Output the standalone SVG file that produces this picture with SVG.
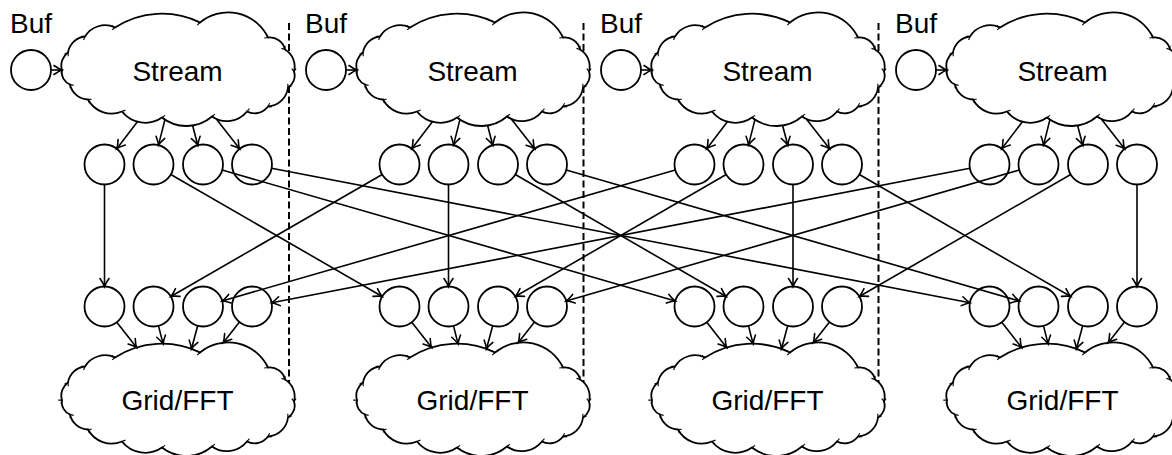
<svg xmlns="http://www.w3.org/2000/svg" xmlns:xlink="http://www.w3.org/1999/xlink" width="1172" height="455" viewBox="0 0 1172 455">
<style>
.c{fill:none;stroke:#000;stroke-width:1.8}
.cl{fill:#fff;stroke:#000;stroke-width:1.8;marker-mid:url(#tick)}
.t{font-family:"Liberation Sans",Arial,sans-serif;font-size:28px;fill:#000}
.m{text-anchor:middle}
.e{fill:none;stroke:#000;stroke-width:1.6;marker-end:url(#ah)}
.d{fill:none;stroke:#000;stroke-width:2;stroke-dasharray:7 3.5}
</style>
<defs>
<marker id="ah" markerUnits="userSpaceOnUse" markerWidth="12" markerHeight="12" viewBox="-9 -6 10 12" refX="0" refY="0" orient="auto" overflow="visible">
<path d="M-8,-4.5 Q-3,-1 0,0 Q-3,1 -8,4.5" fill="none" stroke="#000" stroke-width="1.6" stroke-linecap="round"/>
</marker>
<marker id="tick" markerUnits="userSpaceOnUse" markerWidth="8" markerHeight="8" viewBox="-5 -4 6 8" refX="0" refY="0" orient="auto" overflow="visible">
<path d="M-3,-2.2 L0,0 L-3,2.2" fill="none" stroke="#000" stroke-width="1.1"/>
</marker>
<path id="cloud" d="M-115.5,0 A15.8,15.8 0 0 1 -109.5,-17.5 A19,19 0 0 1 -92.5,-33.5 A23.4,23.4 0 0 1 -62.5,-42.5 A86.8,86.8 0 0 1 22.5,-47.5 A44.1,44.1 0 0 1 90.5,-32.5 A15.5,15.5 0 0 1 107.5,-20.5 A19.7,19.7 0 0 1 116.5,1.5 A13.7,13.7 0 0 1 110.5,17.5 A21.5,21.5 0 0 1 90.5,36.5 A16.6,16.6 0 0 1 69.5,41.5 A25.9,25.9 0 0 1 34.5,46.5 A39.2,39.2 0 0 1 -15.5,47.5 A29.5,29.5 0 0 1 -55.5,41.5 A26.8,26.8 0 0 1 -89.5,29.5 A19.1,19.1 0 0 1 -107.5,14.5 A13,13 0 0 1 -115.5,0 Z"/>
</defs>
<rect width="1172" height="455" fill="#fff"/>

<g id="separators">
<line class="d" x1="289" y1="23" x2="289" y2="383"/>
<line class="d" x1="583.5" y1="23" x2="583.5" y2="383"/>
<line class="d" x1="878.5" y1="23" x2="878.5" y2="383"/>
</g>

<g id="stream0"><use href="#cloud" class="cl" transform="translate(177.5,70)"/><text class="t m" x="177.5" y="80.5">Stream</text></g>
<g id="stream1"><use href="#cloud" class="cl" transform="translate(472.5,70)"/><text class="t m" x="472.5" y="80.5">Stream</text></g>
<g id="stream2"><use href="#cloud" class="cl" transform="translate(767.5,70)"/><text class="t m" x="767.5" y="80.5">Stream</text></g>
<g id="stream3"><use href="#cloud" class="cl" transform="translate(1062.5,70)"/><text class="t m" x="1062.5" y="80.5">Stream</text></g>

<g id="grid0"><use href="#cloud" class="cl" transform="translate(177.5,400)"/><text class="t m" x="177.5" y="410">Grid/FFT</text></g>
<g id="grid1"><use href="#cloud" class="cl" transform="translate(472.5,400)"/><text class="t m" x="472.5" y="410">Grid/FFT</text></g>
<g id="grid2"><use href="#cloud" class="cl" transform="translate(767.5,400)"/><text class="t m" x="767.5" y="410">Grid/FFT</text></g>
<g id="grid3"><use href="#cloud" class="cl" transform="translate(1062.5,400)"/><text class="t m" x="1062.5" y="410">Grid/FFT</text></g>

<g id="buf0"><text class="t" x="10" y="33">Buf</text><circle class="c" cx="31" cy="70" r="20"/></g>
<g id="buf1"><text class="t" x="305" y="33">Buf</text><circle class="c" cx="326" cy="70" r="20"/></g>
<g id="buf2"><text class="t" x="600" y="33">Buf</text><circle class="c" cx="621" cy="70" r="20"/></g>
<g id="buf3"><text class="t" x="895" y="33">Buf</text><circle class="c" cx="916" cy="70" r="20"/></g>

<g id="top0-0"><circle class="c" cx="104.5" cy="164.5" r="20"/></g>
<g id="top0-1"><circle class="c" cx="153.5" cy="164.5" r="20"/></g>
<g id="top0-2"><circle class="c" cx="203" cy="164.5" r="20"/></g>
<g id="top0-3"><circle class="c" cx="252" cy="164.5" r="20"/></g>
<g id="top1-0"><circle class="c" cx="399.5" cy="164.5" r="20"/></g>
<g id="top1-1"><circle class="c" cx="448.5" cy="164.5" r="20"/></g>
<g id="top1-2"><circle class="c" cx="498" cy="164.5" r="20"/></g>
<g id="top1-3"><circle class="c" cx="547" cy="164.5" r="20"/></g>
<g id="top2-0"><circle class="c" cx="694.5" cy="164.5" r="20"/></g>
<g id="top2-1"><circle class="c" cx="743.5" cy="164.5" r="20"/></g>
<g id="top2-2"><circle class="c" cx="793" cy="164.5" r="20"/></g>
<g id="top2-3"><circle class="c" cx="842" cy="164.5" r="20"/></g>
<g id="top3-0"><circle class="c" cx="989.5" cy="164.5" r="20"/></g>
<g id="top3-1"><circle class="c" cx="1038.5" cy="164.5" r="20"/></g>
<g id="top3-2"><circle class="c" cx="1088" cy="164.5" r="20"/></g>
<g id="top3-3"><circle class="c" cx="1137" cy="164.5" r="20"/></g>

<g id="bot0-0"><circle class="c" cx="104.5" cy="306.5" r="20"/></g>
<g id="bot0-1"><circle class="c" cx="153.5" cy="306.5" r="20"/></g>
<g id="bot0-2"><circle class="c" cx="203" cy="306.5" r="20"/></g>
<g id="bot0-3"><circle class="c" cx="252" cy="306.5" r="20"/></g>
<g id="bot1-0"><circle class="c" cx="399.5" cy="306.5" r="20"/></g>
<g id="bot1-1"><circle class="c" cx="448.5" cy="306.5" r="20"/></g>
<g id="bot1-2"><circle class="c" cx="498" cy="306.5" r="20"/></g>
<g id="bot1-3"><circle class="c" cx="547" cy="306.5" r="20"/></g>
<g id="bot2-0"><circle class="c" cx="694.5" cy="306.5" r="20"/></g>
<g id="bot2-1"><circle class="c" cx="743.5" cy="306.5" r="20"/></g>
<g id="bot2-2"><circle class="c" cx="793" cy="306.5" r="20"/></g>
<g id="bot2-3"><circle class="c" cx="842" cy="306.5" r="20"/></g>
<g id="bot3-0"><circle class="c" cx="989.5" cy="306.5" r="20"/></g>
<g id="bot3-1"><circle class="c" cx="1038.5" cy="306.5" r="20"/></g>
<g id="bot3-2"><circle class="c" cx="1088" cy="306.5" r="20"/></g>
<g id="bot3-3"><circle class="c" cx="1137" cy="306.5" r="20"/></g>

<g id="connectors">
<line class="e" x1="51" y1="70" x2="62" y2="70"/>
<line class="e" x1="346" y1="70" x2="357" y2="70"/>
<line class="e" x1="641" y1="70" x2="652" y2="70"/>
<line class="e" x1="936" y1="70" x2="947" y2="70"/>
<line class="e" x1="137.4" y1="121.7" x2="116.8" y2="148.7"/>
<line class="e" x1="164.9" y1="119.6" x2="158.5" y2="145.1"/>
<line class="e" x1="192.6" y1="125.5" x2="197.8" y2="145.2"/>
<line class="e" x1="216.3" y1="119" x2="239.6" y2="148.8"/>
<line class="e" x1="432.4" y1="121.7" x2="411.8" y2="148.7"/>
<line class="e" x1="459.9" y1="119.6" x2="453.5" y2="145.1"/>
<line class="e" x1="487.6" y1="125.5" x2="492.8" y2="145.2"/>
<line class="e" x1="511.3" y1="119" x2="534.6" y2="148.8"/>
<line class="e" x1="727.4" y1="121.7" x2="706.8" y2="148.7"/>
<line class="e" x1="754.9" y1="119.6" x2="748.5" y2="145.1"/>
<line class="e" x1="782.6" y1="125.5" x2="787.8" y2="145.2"/>
<line class="e" x1="806.3" y1="119" x2="829.6" y2="148.8"/>
<line class="e" x1="1022.4" y1="121.7" x2="1001.8" y2="148.7"/>
<line class="e" x1="1049.9" y1="119.6" x2="1043.5" y2="145.1"/>
<line class="e" x1="1077.6" y1="125.5" x2="1082.8" y2="145.2"/>
<line class="e" x1="1101.3" y1="119" x2="1124.6" y2="148.8"/>
<line class="e" x1="104.5" y1="184.5" x2="104.5" y2="286.5"/>
<line class="e" x1="170.8" y1="174.5" x2="382.2" y2="296.5"/>
<line class="e" x1="222.2" y1="170.05" x2="675.3" y2="300.95"/>
<line class="e" x1="271.6" y1="168.3" x2="969.9" y2="302.7"/>
<line class="e" x1="382.2" y1="174.5" x2="170.8" y2="296.5"/>
<line class="e" x1="448.5" y1="184.5" x2="448.5" y2="286.5"/>
<line class="e" x1="515.3" y1="174.5" x2="726.2" y2="296.5"/>
<line class="e" x1="566.2" y1="170.05" x2="1019.3" y2="300.95"/>
<line class="e" x1="675.3" y1="170.05" x2="222.2" y2="300.95"/>
<line class="e" x1="726.2" y1="174.5" x2="515.3" y2="296.5"/>
<line class="e" x1="793" y1="184.5" x2="793" y2="286.5"/>
<line class="e" x1="859.3" y1="174.5" x2="1070.7" y2="296.5"/>
<line class="e" x1="969.9" y1="168.3" x2="271.6" y2="302.7"/>
<line class="e" x1="1019.3" y1="170.05" x2="566.2" y2="300.95"/>
<line class="e" x1="1070.7" y1="174.5" x2="859.3" y2="296.5"/>
<line class="e" x1="1137" y1="184.5" x2="1137" y2="286.5"/>
<line class="e" x1="116.8" y1="322.3" x2="136.6" y2="347.6"/>
<line class="e" x1="158.5" y1="325.9" x2="163.1" y2="343.9"/>
<line class="e" x1="197.7" y1="325.8" x2="191.4" y2="349"/>
<line class="e" x1="239.5" y1="322.1" x2="223.2" y2="342.7"/>
<line class="e" x1="411.8" y1="322.3" x2="431.6" y2="347.6"/>
<line class="e" x1="453.5" y1="325.9" x2="458.1" y2="343.9"/>
<line class="e" x1="492.7" y1="325.8" x2="486.4" y2="349"/>
<line class="e" x1="534.5" y1="322.1" x2="518.2" y2="342.7"/>
<line class="e" x1="706.8" y1="322.3" x2="726.6" y2="347.6"/>
<line class="e" x1="748.5" y1="325.9" x2="753.1" y2="343.9"/>
<line class="e" x1="787.7" y1="325.8" x2="781.4" y2="349"/>
<line class="e" x1="829.5" y1="322.1" x2="813.2" y2="342.7"/>
<line class="e" x1="1001.8" y1="322.3" x2="1021.6" y2="347.6"/>
<line class="e" x1="1043.5" y1="325.9" x2="1048.1" y2="343.9"/>
<line class="e" x1="1082.7" y1="325.8" x2="1076.4" y2="349"/>
<line class="e" x1="1124.5" y1="322.1" x2="1108.2" y2="342.7"/>
</g>
</svg>
